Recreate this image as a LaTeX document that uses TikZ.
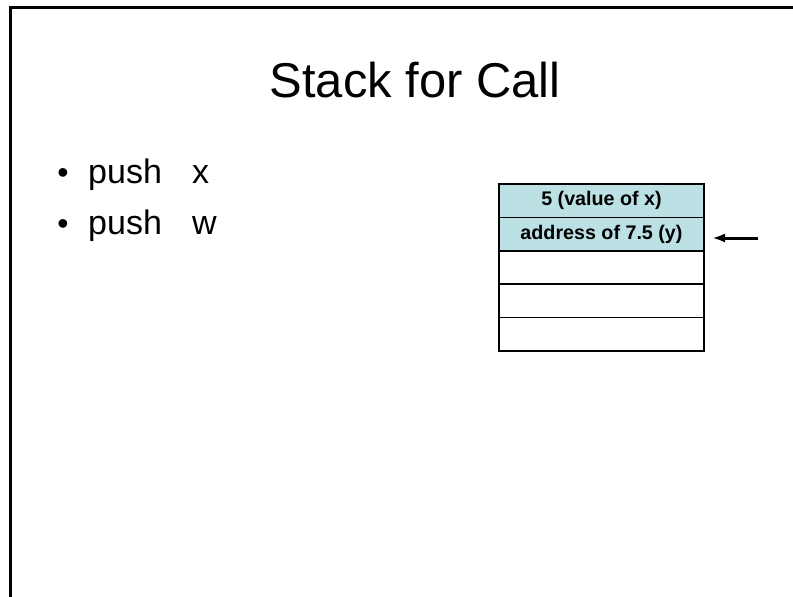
\documentclass[tikz,border=0pt]{standalone}
\usepackage{fontspec}
\setmainfont{Liberation Sans}
\usetikzlibrary{arrows.meta}
\definecolor{cellfill}{RGB}{188,225,228}
\begin{document}
\begin{tikzpicture}[x=1pt,y=-1pt,
  title/.style={inner sep=0pt, anchor=base, font=\fontsize{48.9}{52}\selectfont},
  bodytext/.style={inner sep=0pt, anchor=base west, font=\fontsize{34}{38}\selectfont},
  bulletmark/.style={inner sep=0pt, anchor=base, font=\fontsize{32}{36}\selectfont},
  cell/.style={draw=black, line width=1.5pt, minimum width=205pt, minimum height=33.4pt,
               inner sep=0pt, font=\fontsize{19.7}{21}\selectfont\bfseries},
  pointer/.style={-{Latex[length=13pt,width=9pt]}, line width=3pt}]
\useasboundingbox (0,0) rectangle (793,597);
\fill[white] (0,0) rectangle (793,597);
% slide frame
\draw[line width=3pt] (10.5,597) -- (10.5,7) -- (793,7);
% title
\node[title] (ttl) at (415,97) {Stack for Call};
% bullet list
\node[bulletmark] (b1) at (63,183) {•};
\node[bodytext] (p1) at (88,183) {push};
\node[bodytext] (a1) at (192,183) {x};
\node[bulletmark] (b2) at (63,234) {•};
\node[bodytext] (p2) at (88,234) {push};
\node[bodytext] (a2) at (192,234) {w};
% stack cells
\node[cell, fill=cellfill] (c1) at (601.5,200.7) {5 (value of x)};
\node[cell, fill=cellfill] (c2) at (601.5,234.1) {address of 7.5 (y)};
\node[cell] (c3) at (601.5,267.5) {};
\node[cell] (c4) at (601.5,300.9) {};
\node[cell] (c5) at (601.5,334.3) {};
% stack pointer
\coordinate (ptail) at (758,238);
\coordinate (phead) at (712,238);
\draw[pointer] (ptail) -- (phead);
\end{tikzpicture}
\end{document}
